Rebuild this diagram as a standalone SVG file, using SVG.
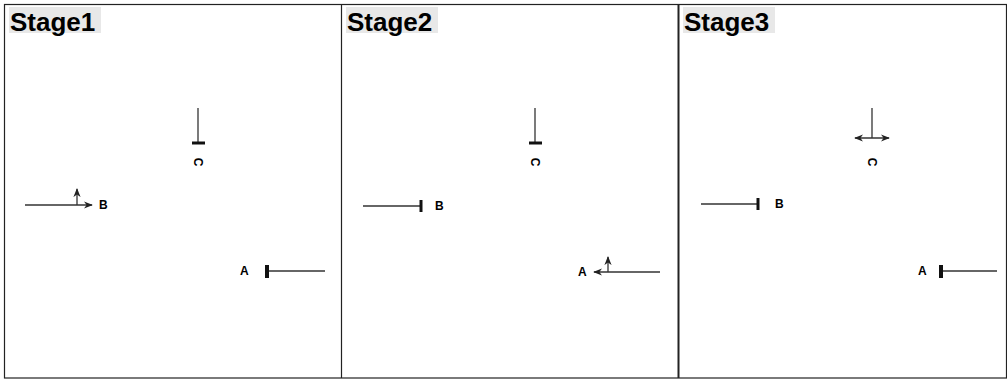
<svg xmlns="http://www.w3.org/2000/svg" width="1007" height="380" viewBox="0 0 1007 380">
<defs>
<marker id="arr" viewBox="0 0 10 10" refX="9" refY="5" markerWidth="9" markerHeight="9" markerUnits="userSpaceOnUse" orient="auto-start-reverse"><path d="M0,1 L10,5 L0,9 L3,5 Z" fill="#222"/></marker>
</defs>
<style>
.frame{fill:none;stroke:#222;stroke-width:1.2}
.ln{stroke:#333;stroke-width:1.3;fill:none}
.bar{stroke:#111;stroke-width:3}
.st{font-family:"Liberation Sans",Arial,sans-serif;font-weight:bold;font-size:26px;fill:#000}
.hl{fill:#e8e8e8}
.lb{font-family:"Liberation Sans",Arial,sans-serif;font-weight:bold;font-size:12px;fill:#000}
</style>
<g id="frame">
<rect class="frame" x="4.5" y="4.5" width="1002" height="373.5"/>
<line class="frame" x1="341.5" y1="4" x2="341.5" y2="378"/>
<line class="frame" x1="678.5" y1="4" x2="678.5" y2="378" style="stroke-width:2"/>
</g>
<g id="stage1-title"><rect class="hl" x="9" y="7" width="92" height="26"/><text class="st" x="10" y="31">Stage1</text></g>
<g id="stage2-title"><rect class="hl" x="346" y="7" width="92" height="26"/><text class="st" x="347" y="31">Stage2</text></g>
<g id="stage3-title"><rect class="hl" x="683" y="7" width="92" height="26"/><text class="st" x="684" y="31">Stage3</text></g>
<g id="connectors">
<line class="ln" x1="198" y1="108" x2="198" y2="142"/>
<line class="bar" x1="192" y1="143" x2="205" y2="143"/>
<line class="ln" x1="25" y1="205" x2="92" y2="205" marker-end="url(#arr)"/>
<line class="ln" x1="77" y1="205" x2="77" y2="189" marker-end="url(#arr)"/>
<line class="ln" x1="267" y1="271" x2="325" y2="271"/>
<line class="bar" x1="267" y1="265" x2="267" y2="278" style="stroke-width:4"/>
<line class="ln" x1="535" y1="108" x2="535" y2="142"/>
<line class="bar" x1="529" y1="143" x2="542" y2="143"/>
<line class="ln" x1="363" y1="206" x2="421" y2="206"/>
<line class="bar" x1="421" y1="200" x2="421" y2="212"/>
<line class="ln" x1="660" y1="272" x2="594" y2="272" marker-end="url(#arr)"/>
<line class="ln" x1="608" y1="272" x2="608" y2="257" marker-end="url(#arr)"/>
<line class="ln" x1="872" y1="108" x2="872" y2="138"/>
<line class="ln" x1="855" y1="138" x2="889" y2="138" marker-start="url(#arr)" marker-end="url(#arr)"/>
<line class="ln" x1="701" y1="204" x2="758" y2="204"/>
<line class="bar" x1="758" y1="198" x2="758" y2="210"/>
<line class="ln" x1="941" y1="271" x2="997" y2="271"/>
<line class="bar" x1="941" y1="265" x2="941" y2="278" style="stroke-width:4"/>
</g>
<g id="node-C1"><text class="lb" transform="translate(198,162) rotate(90)" text-anchor="middle" dominant-baseline="central">C</text></g>
<g id="node-B1"><text class="lb" x="99" y="209">B</text></g>
<g id="node-A1"><text class="lb" x="240" y="275">A</text></g>
<g id="node-C2"><text class="lb" transform="translate(535,162) rotate(90)" text-anchor="middle" dominant-baseline="central">C</text></g>
<g id="node-B2"><text class="lb" x="435" y="210">B</text></g>
<g id="node-A2"><text class="lb" x="578" y="276">A</text></g>
<g id="node-C3"><text class="lb" transform="translate(872,162) rotate(90)" text-anchor="middle" dominant-baseline="central">C</text></g>
<g id="node-B3"><text class="lb" x="775" y="208">B</text></g>
<g id="node-A3"><text class="lb" x="918" y="275">A</text></g>
</svg>
